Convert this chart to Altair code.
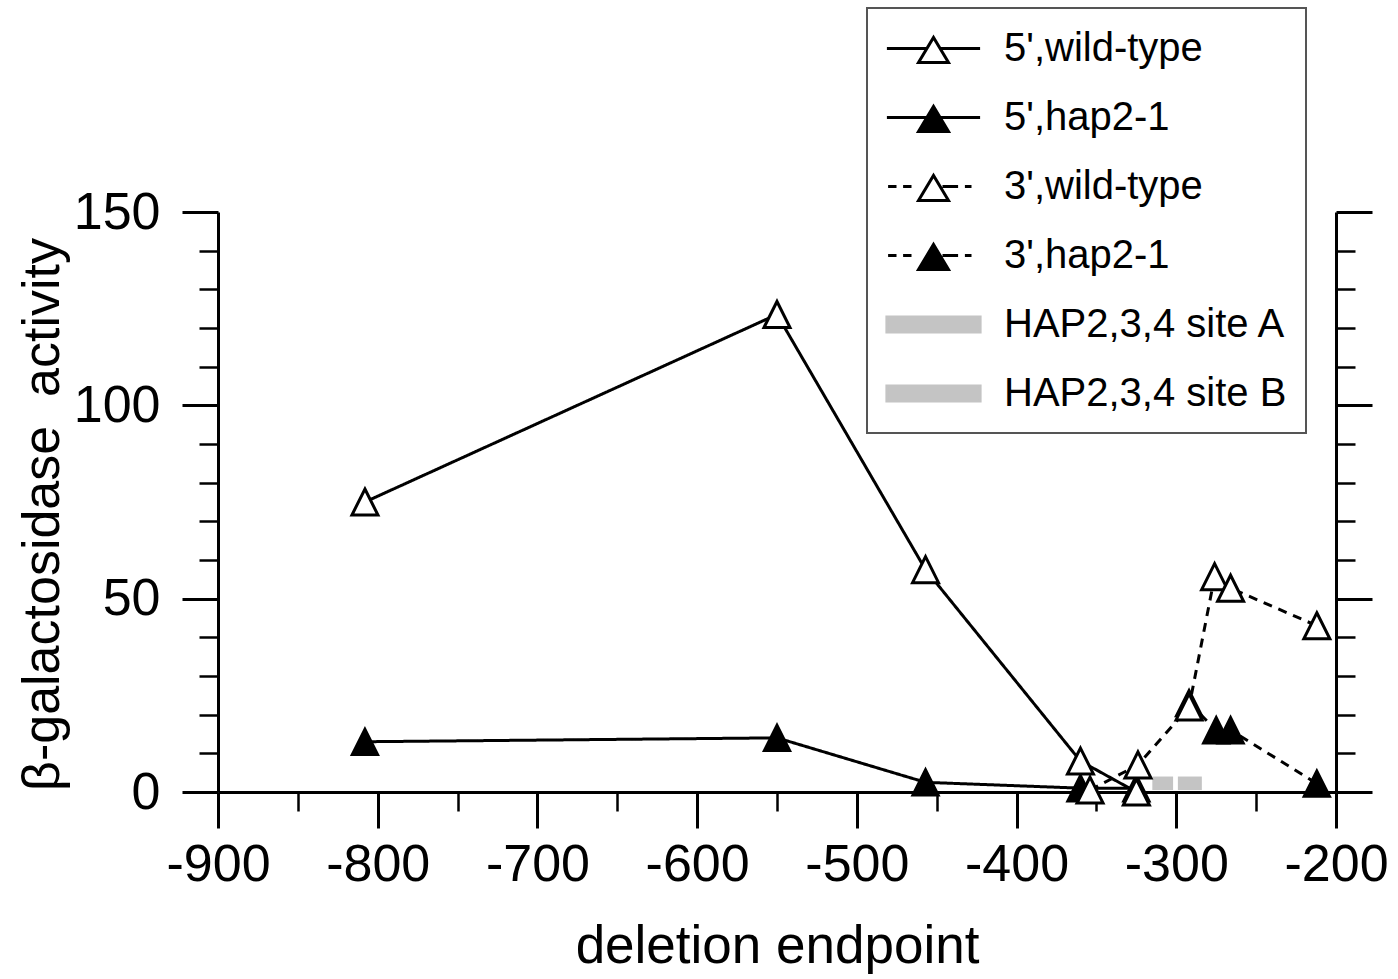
import altair as alt
import pandas as pd

FONT = "Liberation Sans"

# deletion series: endpoint (bp) and beta-galactosidase activity
series_names = ["5',wild-type", "5',hap2-1", "3',wild-type", "3',hap2-1"]
site_names = ["HAP2,3,4 site A", "HAP2,3,4 site B"]

wt5_x = [-808, -550, -457, -360, -325]
wt5_y = [75, 123.5, 57.5, 8, 0]
hap5_x = [-808, -550, -457, -360, -325]
hap5_y = [13, 14, 2.5, 1, 1]
wt3_x = [-354, -324, -292, -276, -266, -212]
wt3_y = [0.5, 7, 22, 55.7, 52.7, 43]
hap3_x = [-292, -275, -266, -212]
hap3_y = [23, 16, 16, 2.2]

# HAP2,3,4 binding sites drawn as small bars just above the baseline
site_start = [-315, -299]
site_end = [-302, -284]
site_low = [0.5, 0.5]
site_high = [4, 4]

x_major = [-900, -800, -700, -600, -500, -400, -300, -200]
x_minor = [-850, -750, -650, -550, -450, -350, -250]
y_major = [0, 50, 100, 150]
y_minor = [10, 20, 30, 40, 60, 70, 80, 90, 110, 120, 130, 140]


def frame(xs, ys, name):
    return pd.DataFrame({"x": xs, "y": ys, "series": name})


lines_df = pd.concat([
    frame(wt5_x, wt5_y, series_names[0]),
    frame(hap5_x, hap5_y, series_names[1]),
    frame(wt3_x, wt3_y, series_names[2]),
    frame(hap3_x, hap3_y, series_names[3]),
])
open_df = pd.concat([frame(wt5_x, wt5_y, series_names[0]), frame(wt3_x, wt3_y, series_names[2])])
filled_df = pd.concat([frame(hap5_x, hap5_y, series_names[1]), frame(hap3_x, hap3_y, series_names[3])])
sites_df = pd.DataFrame({"name": site_names, "x1": site_start, "x2": site_end,
                         "y1": site_low, "y2": site_high})
legend_df = pd.DataFrame({"name": series_names + site_names})

xscale = alt.Scale(domain=[-900, -200], nice=False, zero=False)
yscale = alt.Scale(domain=[0, 150], nice=False)

TRI = "M0,-1L1,1L-1,1Z"
SITE_GRAY = "#c4c4c4"

# legend glyphs: line + triangle (solid or broken), and the shaded bar
tri_leg = "M-0.75,0.7L0,-0.55L0.75,0.7Z"
legend_paths = [
    "M-2.33,0H-0.33M0.33,0H2.33" + tri_leg,
    "M-2.33,0H2.33" + tri_leg,
    "M-2.27,0H-1.85M-1.52,0H-1.1M0.45,0H1.23M1.57,0H1.9" + tri_leg,
    "M-2.27,0H-1.85M-1.52,0H-1.1M0.45,0H1.23M1.57,0H1.9" + tri_leg,
    "M-2.33,-0.37H2.33V0.37H-2.33Z",
    "M-2.33,-0.37H2.33V0.37H-2.33Z",
]
legend_fill = ["white", "black", "white", "black", SITE_GRAY, SITE_GRAY]
legend_stroke = ["black", "black", "black", "black", SITE_GRAY, SITE_GRAY]

major_common = dict(tickSize=36, tickWidth=3, tickColor="black", domainColor="black",
                    domainWidth=3, grid=False, labelFont=FONT, labelFontSize=52,
                    labelColor="black")
minor_common = dict(tickSize=19, tickWidth=2.5, tickColor="black", domain=False,
                    labels=False, grid=False, title=None)

x_axis_major = alt.Axis(values=x_major, labelExpr="'' + datum.value", labelPadding=52,
                        labelBaseline="alphabetic", labelFlush=False, labelAlign="center",
                        title="deletion endpoint",
                        titleFont=FONT, titleFontSize=53, titleFontWeight="normal",
                        titleColor="black", titleY=170, titleBaseline="alphabetic",
                        **major_common)
x_axis_minor = alt.Axis(values=x_minor, orient="bottom", **minor_common)
y_axis_left = alt.Axis(values=y_major, orient="left", labelPadding=22,
                       labelBaseline="middle", labelFlush=False,
                       title="β-galactosidase\u00a0 activity",
                       titleFont=FONT, titleFontSize=52, titleFontWeight="normal",
                       titleColor="black", titleAngle=270, titleX=-160, titleY=302,
                       titleBaseline="alphabetic", titleAlign="center", **major_common)
y_axis_left_minor = alt.Axis(values=y_minor, orient="left", **minor_common)
y_axis_right = alt.Axis(values=y_major, orient="right", labels=False, title=None,
                        **major_common)
y_axis_right_minor = alt.Axis(values=y_minor, orient="right", **minor_common)

sites = alt.Chart(sites_df).mark_rect(fill=SITE_GRAY).encode(
    x=alt.X("x1:Q", scale=xscale, axis=x_axis_major),
    x2="x2:Q",
    y=alt.Y("y1:Q", scale=yscale, axis=y_axis_left),
    y2="y2:Q",
)

lines = alt.Chart(lines_df).mark_line(color="black", strokeWidth=3).encode(
    x=alt.X("x:Q", scale=xscale, axis=x_axis_minor),
    y=alt.Y("y:Q", scale=yscale, axis=y_axis_left_minor),
    detail="series:N",
    strokeDash=alt.StrokeDash("series:N", legend=None,
                              scale=alt.Scale(domain=series_names,
                                              range=[[1, 0], [1, 0], [9, 7], [9, 7]])),
)

filled_pts = alt.Chart(filled_df).mark_point(
    shape=TRI, size=676, filled=True, fill="black", stroke="black", strokeWidth=2.5,
    opacity=1,
).encode(
    x=alt.X("x:Q", scale=xscale, axis=None),
    y=alt.Y("y:Q", scale=yscale, axis=y_axis_right),
)

open_pts = alt.Chart(open_df).mark_point(
    shape=TRI, size=676, filled=True, fill="white", stroke="black", strokeWidth=3,
    opacity=1,
).encode(
    x=alt.X("x:Q", scale=xscale, axis=None),
    y=alt.Y("y:Q", scale=yscale, axis=y_axis_right_minor),
)

leg = alt.Legend(title=None, orient="none", legendX=649, legendY=-204, padding=19,
                 strokeColor="#555555", fillColor="white", labelFont=FONT,
                 labelFontSize=40, labelColor="black", labelLimit=600,
                 symbolSize=1600, symbolOffset=26, labelOffset=49, rowPadding=27,
                 symbolStrokeWidth=3, symbolOpacity=1)

# legend-only layer: the scales carry explicit domains, so no rows are needed
legend_layer = alt.Chart(legend_df).transform_filter("false").mark_point().encode(
    shape=alt.Shape("name:N", scale=alt.Scale(domain=series_names + site_names,
                                              range=legend_paths), legend=leg),
    fill=alt.Fill("name:N", scale=alt.Scale(domain=series_names + site_names,
                                            range=legend_fill), legend=leg),
    stroke=alt.Stroke("name:N", scale=alt.Scale(domain=series_names + site_names,
                                                range=legend_stroke), legend=leg),
)

chart = alt.layer(sites, lines, filled_pts, open_pts, legend_layer).resolve_axis(
    x="independent", y="independent"
).properties(
    width=1118,
    height=580,
    autosize=alt.AutoSizeParams(type="none"),
    padding={"left": 218, "top": 212, "right": 62, "bottom": 187},
    background="white",
).configure_view(stroke=None).configure_legend(strokeWidth=2)

chart.save("out.html", embed_options={"renderer": "svg", "actions": False})
